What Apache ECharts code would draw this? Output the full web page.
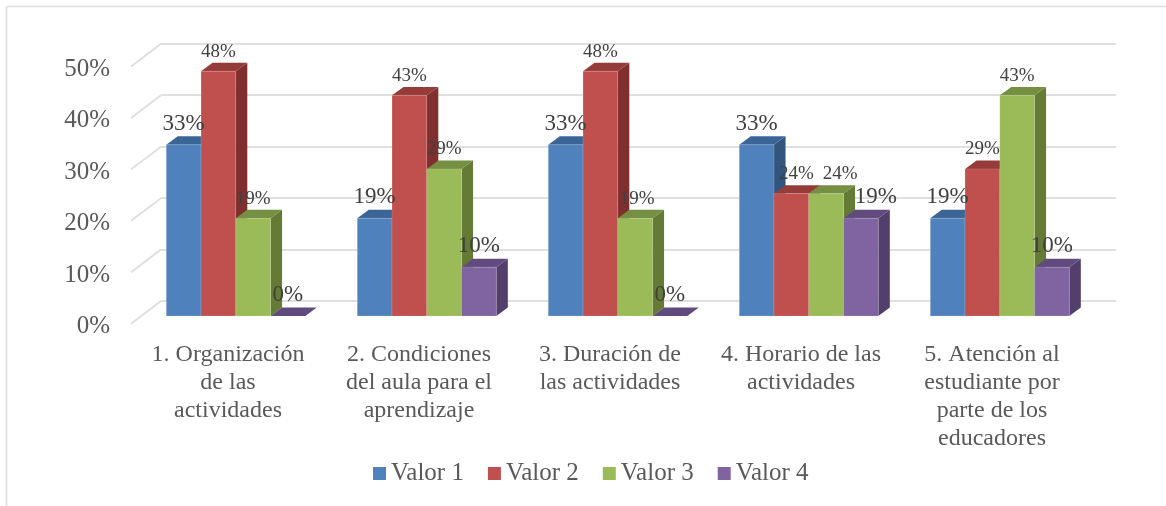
<!DOCTYPE html>
<html><head><meta charset="utf-8">
<style>html,body{margin:0;padding:0;background:#fff}#c{width:1166px;height:506px}</style>
<script src="https://cdn.jsdelivr.net/npm/echarts@6/dist/echarts.min.js"></script>
</head><body><div id="c"></div>
<script>
const categories = ['1. Organización\nde las\nactividades','2. Condiciones\ndel aula para el\naprendizaje','3. Duración de\nlas actividades','4. Horario de las\nactividades','5. Atención al\nestudiante por\nparte de los\neducadores'];
const valor1 = [33.3,19.0,33.3,33.3,19.0];
const valor2 = [47.6,42.9,47.6,23.8,28.6];
const valor3 = [19.0,28.6,19.0,23.8,42.9];
const valor4 = [0,9.5,0,19.0,9.5];
const seriesNames = ['Valor 1','Valor 2','Valor 3','Valor 4'];
const yTicks = [0,10,20,30,40,50];

const seriesValues = [valor1,valor2,valor3,valor4];
const faceColors = ['#4F81BD','#C0504D','#9BBB59','#8064A2'];
const topColors = ['#3B6596','#953B39','#758F43','#614A7D'];
const sideColors = ['#31557F','#7F2F2D','#647A35','#533F6B'];
const largeLabels = [[1,0,0,1],[1,0,0,1],[1,0,0,1],[1,0,0,1],[1,0,0,1]];
const labelShift = [[0,0,0,0],[0,0,0,0],[0,0,2,0],[0,5,14,15],[0,0,0,0]];
const FONT = '"Liberation Serif", serif';
const DX = 11.5, DY = 8.4, WALL_DX = 30, WALL_DY = 22.7, BAR_FRACTION = 0.182;

function barItem(si) {
  return function (params, api) {
    const cat = api.value(0), val = api.value(1);
    const band = api.size([1, 0])[0];
    const w = band * BAR_FRACTION;
    const base = api.coord([cat, 0]);
    const tip = api.coord([cat, val]);
    const x0 = base[0] - 2 * w + si * w, x1 = x0 + w;
    const yb = base[1], yt = tip[1];
    const poly = (pts, fill) => ({type:'polygon', shape:{points:pts}, style:{fill:fill}});
    const big = largeLabels[cat][si];
    const children = [];
    children.push(poly([[x1,yt],[x1+DX,yt-DY],[x1+DX,yb-DY],[x1,yb]], sideColors[si]));
    children.push(poly([[x0,yt],[x0+DX,yt-DY],[x1+DX,yt-DY],[x1,yt]], topColors[si]));
    if (yb - yt > 0.5) children.push({type:'rect', shape:{x:x0,y:yt,width:w,height:yb-yt}, style:{fill:faceColors[si], stroke:'rgba(255,255,255,0.25)', lineWidth:0.6}});
    children.push({type:'text', z2:100, style:{
      text: Math.round(val) + '%',
      x: (x0+x1)/2 + labelShift[cat][si],
      y: yt - (big ? 21 : 19.5),
      align:'center', verticalAlign:'middle',
      font: (big ? 23 : 19) + 'px ' + FONT, fill:'#404040'
    }});
    return {type:'group', children};
  };
}

const wallItem = function (params, api) {
  const p = api.coord([0, api.value(0)]);
  const left = p[0] - api.size([1,0])[0] / 2;
  return {type:'line', shape:{x1:left, y1:p[1], x2:left+WALL_DX, y2:p[1]-WALL_DY},
    style:{stroke:'#DEDEDE', lineWidth:1.8}};
};

const chart = echarts.init(document.getElementById('c'), null, {renderer:'canvas'});
chart.setOption({
  animation:false,
  backgroundColor:'#fff',
  graphic:[
    {type:'line', shape:{x1:6.5,y1:6.5,x2:1166,y2:6.5}, style:{stroke:'#DEDEDE', lineWidth:1.6}},
    {type:'line', shape:{x1:6.5,y1:6.5,x2:6.5,y2:506}, style:{stroke:'#DEDEDE', lineWidth:1.6}}
  ],
  grid:[
    {left:161, width:955, top:43.5, height:257.2},
    {left:131, width:955, top:66.5, height:257.2},
    {left:140.3, width:955, top:58.8, height:257.2},
    {left:132.5, width:955, top:69.2, height:257.2}
  ],
  xAxis:[
    {gridIndex:0,type:'category',data:categories,show:false},
    {gridIndex:1,type:'category',data:categories,show:false},
    {gridIndex:2,type:'category',data:categories,show:false},
    {gridIndex:3,type:'category',data:categories,axisLine:{show:false},axisTick:{show:false},
      axisLabel:{interval:0,margin:14,color:'#595959',fontFamily:'"Liberation Serif", serif',fontSize:24,lineHeight:28}}
  ],
  yAxis:[
    {gridIndex:0,type:'value',min:0,max:50,interval:10,axisLabel:{show:false},axisLine:{show:false},axisTick:{show:false},
      splitLine:{lineStyle:{color:'#E0E0E0',width:2}}},
    {gridIndex:1,type:'value',min:0,max:50,interval:10,show:false,splitLine:{show:false}},
    {gridIndex:2,type:'value',min:0,max:50,interval:10,show:false,splitLine:{show:false}},
    {gridIndex:3,type:'value',min:0,max:50,interval:10,axisLine:{show:false},axisTick:{show:false},splitLine:{show:false},
      axisLabel:{margin:22.5,formatter:'{value}%',color:'#595959',fontFamily:'"Liberation Serif", serif',fontSize:25}}
  ],
  legend:{left:368,top:456,icon:'rect',itemWidth:13,itemHeight:13,itemGap:24,data:seriesNames,
    textStyle:{color:'#595959',fontFamily:'"Liberation Serif", serif',fontSize:25}},
  series:[
    {type:'custom',name:'wall',silent:true,xAxisIndex:1,yAxisIndex:1,renderItem:wallItem,
      encode:{y:0},data:yTicks.map(t=>[t]),legendHoverLink:false},
    ...seriesNames.map((n,si)=>({
      type:'custom',name:n,xAxisIndex:2,yAxisIndex:2,renderItem:barItem(si),
      itemStyle:{color:faceColors[si]},
      encode:{x:0,y:1},clip:false,
      data:seriesValues[si].map((v,i)=>[i,v])
    }))
  ]
});
</script></body></html>
